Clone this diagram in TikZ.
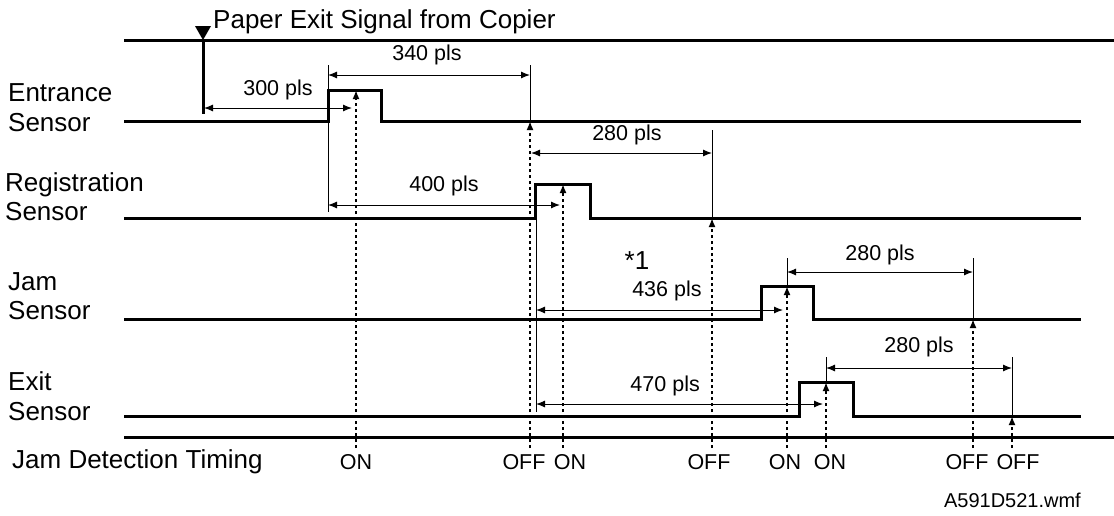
\documentclass[tikz,border=0pt]{standalone}
\usepackage{fontspec}
\setmainfont{Liberation Sans}
\usetikzlibrary{arrows.meta,calc}
\tikzset{
  sig/.style={line width=3pt, line join=miter},
  extline/.style={line width=1pt},
  dimarr/.style={{Latex[length=9pt,width=7pt]}-{Latex[length=9pt,width=7pt]}, line width=1pt},
  detarr/.style={-{Latex[length=9pt,width=7pt]}, line width=2pt, dash pattern=on 3pt off 3pt},
  sensor/.style={font=\fontsize{26}{29.5}\selectfont, align=left, anchor=west, inner sep=0pt},
  pls/.style={font=\fontsize{21.5}{24}\selectfont, inner sep=0pt}
}
\begin{document}
\begin{tikzpicture}[x=1pt,y=-1pt]
  \useasboundingbox (0,0) rectangle (1114,515);
  % sensor names
  \node[sensor] (ent) at (8,107.5) {Entrance\\Sensor};
  \node[sensor] (reg) at (5,196.5) {Registration\\Sensor};
  \node[sensor] (jam) at (8,296) {Jam\\Sensor};
  \node[sensor] (exit) at (8,396) {Exit\\Sensor};
  \node[sensor] (jdt) at (12,462) {Jam Detection Timing};
  % paper exit signal
  \draw[sig] (124,40) -- (1114,40);
  \draw[sig] (203,40) -- (203,114);
  \fill (195,26) -- (211,26) -- (203,40) -- cycle;
  \node[sensor, anchor=base west] (pes) at (213,28) {Paper Exit Signal from Copier};
  % sensor signals
  \draw[sig] (124,121) -| (328,90) -| (381,121) -- (1081,121);
  \draw[sig] (124,218) -| (535,184) -| (590,218) -- (1081,218);
  \draw[sig] (124,319) -| (761,286) -| (813,319) -- (1081,319);
  \draw[sig] (124,416) -| (799,382) -| (853,416) -- (1081,416);
  \draw[sig] (124,437) -- (1114,437);
  % extension lines
  \draw[extline] (328,65) -- (328,212);
  \draw[extline] (530,65) -- (530,121);
  \draw[extline] (712,130) -- (712,218);
  \draw[extline] (536,218) -- (536,412);
  \draw[extline] (787,258) -- (787,286);
  \draw[extline] (973,258) -- (973,319);
  \draw[extline] (826,357) -- (826,382);
  \draw[extline] (1012,357) -- (1012,416);
  % intervals
  \draw[dimarr] (204,108) -- (352,108) node[pls, midway, above=8pt] (p300) {300 pls};
  \draw[dimarr] (328,75) -- (530,75) node[pls, pos=0.49, above=10pt] (p340) {340 pls};
  \draw[dimarr] (531,153) -- (712,153) node[pls, pos=0.53, above=8pt] (p280a) {280 pls};
  \draw[dimarr] (328,205) -- (560,205) node[pls, pos=0.5, above=9pt] (p400) {400 pls};
  \draw[dimarr] (536,310) -- (783,310) node[pls, pos=0.53, above=9pt] (p436) {436 pls};
  \draw[dimarr] (787,272) -- (973,272) node[pls, midway, above=7pt] (p280b) {280 pls};
  \draw[dimarr] (536,404) -- (823,404) node[pls, pos=0.45, above=8pt] (p470) {470 pls};
  \draw[dimarr] (826,368) -- (1012,368) node[pls, midway, above=11pt] (p280c) {280 pls};
  \node[font=\fontsize{26}{29}\selectfont, inner sep=0pt] (note) at (637,261) {*1};
  % detection timing
  \foreach \x/\y/\t/\lx in {356/90/ON/356, 530/121/OFF/524, 563/184/ON/570, 712/218/OFF/709,
      787/286/ON/785, 826/382/ON/830, 973/319/OFF/967, 1012/416/OFF/1018}{
    \draw[detarr] (\x,448) -- (\x,\y);
    \node[pls] (t\x) at (\lx,462) {\t};
  }
  \node[pls, font=\fontsize{20}{24}\selectfont, anchor=east] (fig) at (1081,500) {A591D521.wmf};
\end{tikzpicture}
\end{document}
